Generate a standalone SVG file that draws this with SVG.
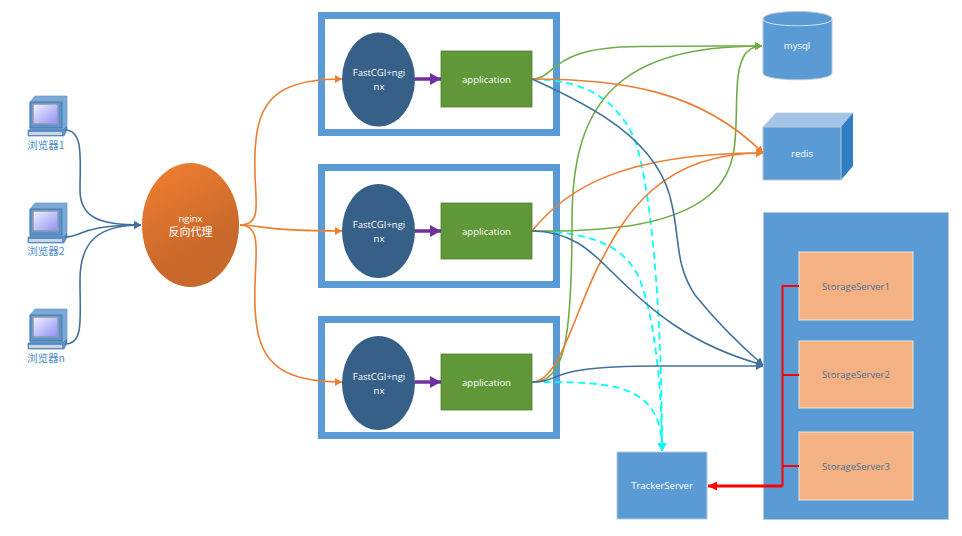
<svg xmlns="http://www.w3.org/2000/svg" width="962" height="536" viewBox="0 0 962 536">
<style>
text{font-family:"Open Sans","Noto Sans","Noto Sans CJK SC",sans-serif;font-size:9.5px;text-anchor:middle}
.w{fill:#fff}
.lbl{fill:#4a8ec9;font-size:10.500px;font-family:"Noto Sans CJK SC","Noto Sans",sans-serif}
.frame{fill:#fff;stroke:#5b9bd5;stroke-width:7}
.cgi{fill:#366088}
.app{fill:#609738;stroke:#4f7f2e;stroke-width:.8}
.blue{fill:#5b9bd5;stroke:#b9c7d6;stroke-width:1}
.st{fill:#f4b183;stroke:#f3e4d8;stroke-width:1}
.stt{fill:#4b6f94}
.c{fill:none;stroke-width:1.6}
.b{stroke:#41719c}.o{stroke:#ed7d31}.g{stroke:#70ad47}
.d{stroke:#00ffff;stroke-dasharray:7 4.5;stroke-width:1.8}
.r{fill:none;stroke:#f00;stroke-width:2}
</style>
<defs>
<marker id="ab" markerUnits="userSpaceOnUse" markerWidth="8" markerHeight="8" refX="7" refY="4" orient="auto"><path d="M0 0L7 4L0 8z" fill="#41719c"/></marker>
<marker id="ao" markerUnits="userSpaceOnUse" markerWidth="8" markerHeight="8" refX="7" refY="4" orient="auto"><path d="M0 0L7 4L0 8z" fill="#ed7d31"/></marker>
<marker id="ag" markerUnits="userSpaceOnUse" markerWidth="8" markerHeight="8" refX="7" refY="4" orient="auto"><path d="M0 0L7 4L0 8z" fill="#70ad47"/></marker>
<marker id="ac" markerUnits="userSpaceOnUse" markerWidth="9" markerHeight="9" refX="8" refY="4.500" orient="auto"><path d="M0 0L8 4.500L0 9z" fill="#00ffff"/></marker>
<marker id="ap" markerUnits="userSpaceOnUse" markerWidth="11" markerHeight="12" refX="11" refY="6" orient="auto"><path d="M0 0L11 6L0 12z" fill="#7030a0"/></marker>
<marker id="ar" markerUnits="userSpaceOnUse" markerWidth="9" markerHeight="9" refX="9" refY="4.500" orient="auto"><path d="M0 0L9 4.500L0 9z" fill="#f00"/></marker>
<linearGradient id="ng" x1="0.3" y1="0" x2="0.6" y2="0.7"><stop offset="0" stop-color="#ed7d31"/><stop offset="1" stop-color="#c8682a"/></linearGradient>
<linearGradient id="scr" x1="0" y1="0" x2="1" y2="1"><stop offset="0" stop-color="#f2f2ff"/><stop offset="1" stop-color="#8f8ff5"/></linearGradient>
<g id="pc">
<path d="M2 6L7 0H39V28L38 34H2z" fill="#7da9d6" stroke="#5b8fc4" stroke-width=".6"/>
<rect x="2" y="6" width="32" height="26" fill="#5b93cc" stroke="#3f74a8" stroke-width=".8"/>
<rect x="5" y="8" width="25" height="20" fill="url(#scr)" stroke="#8d9aa8" stroke-width="1.500"/>
<path d="M0 34H35L39 30V34L36 40H0z" fill="#5f93c8" stroke="#3f74a8" stroke-width=".6"/>
<rect x="1" y="36" width="33" height="3" fill="#c9d6e4"/>
</g>
</defs>

<g id="browser1"><use href="#pc" x="28" y="96"/><text class="lbl" x="46" y="149">浏览器1</text></g>
<g id="browser2"><use href="#pc" x="28" y="203"/><text class="lbl" x="46" y="255">浏览器2</text></g>
<g id="browsern"><use href="#pc" x="28" y="309"/><text class="lbl" x="46" y="362">浏览器n</text></g>

<g id="nginx"><ellipse cx="190.500" cy="225" rx="48.500" ry="62" fill="url(#ng)"/>
<text class="w" x="190.500" y="222">nginx</text><text class="w" x="190.500" y="236" style="font-size:11px">反向代理</text></g>

<g id="node1"><rect class="frame" x="321.500" y="15.500" width="235" height="117"/>
<ellipse class="cgi" cx="378.500" cy="79.500" rx="36.500" ry="47"/>
<text class="w" x="379" y="76">FastCGI+ngi</text><text class="w" x="379" y="90">nx</text>
<rect class="app" x="441" y="51" width="91" height="56"/><text class="w" x="486.500" y="83">application</text></g>
<g id="node2"><rect class="frame" x="321.500" y="167.500" width="235" height="117"/>
<ellipse class="cgi" cx="378.500" cy="231" rx="36.500" ry="47"/>
<text class="w" x="379" y="228">FastCGI+ngi</text><text class="w" x="379" y="242">nx</text>
<rect class="app" x="441" y="203" width="91" height="56"/><text class="w" x="486.500" y="235">application</text></g>
<g id="node3"><rect class="frame" x="321.500" y="319.500" width="235" height="116"/>
<ellipse class="cgi" cx="378.500" cy="383" rx="36.500" ry="47"/>
<text class="w" x="379" y="380">FastCGI+ngi</text><text class="w" x="379" y="394">nx</text>
<rect class="app" x="441" y="354" width="91" height="56"/><text class="w" x="486.500" y="386">application</text></g>

<g id="mysql"><path class="blue" d="M763 19C763 9 832 9 832 19V73C832 82 763 82 763 73z"/>
<path d="M763 19C763 28 832 28 832 19" fill="none" stroke="#d5e3f0" stroke-width="1"/>
<text class="w" x="797" y="49">mysql</text></g>

<g id="redis"><path d="M763 127L776 113H853L841 127z" fill="#a3c6e8" stroke="#b9c7d6" stroke-width=".8"/>
<path d="M841 127L853 113V166L841 180z" fill="#2e7dc5"/>
<rect class="blue" x="763" y="127" width="78" height="53"/>
<text class="w" x="802" y="157">redis</text></g>

<g id="storage"><rect class="blue" x="763.500" y="212.500" width="185" height="307"/>
<g id="s1"><rect class="st" x="799" y="252" width="114" height="68"/><text class="stt" x="856" y="290">StorageServer1</text></g>
<g id="s2"><rect class="st" x="799" y="341" width="114" height="67"/><text class="stt" x="856" y="378">StorageServer2</text></g>
<g id="s3"><rect class="st" x="799" y="432" width="114" height="68"/><text class="stt" x="856" y="470">StorageServer3</text></g></g>

<g id="tracker"><rect class="blue" x="617" y="452" width="90" height="67"/><text class="w" x="662" y="489">TrackerServer</text></g>

<g id="connectors">
<path class="c b" d="M65 130C84 130 80 160 80 190C80 218 100 225 141 225" marker-end="url(#ab)"/>
<path class="c b" d="M65 237C82 237 80 225 141 225" marker-end="url(#ab)"/>
<path class="c b" d="M65 344C84 344 80 320 80 280C80 240 100 225 141 225" marker-end="url(#ab)"/>
<path class="c o" d="M240 225C268 225 250 190 256 140C260 95 285 79 342 79" marker-end="url(#ao)"/>
<path class="c o" d="M240 225C262 225 260 231 342 231" marker-end="url(#ao)"/>
<path class="c o" d="M240 225C268 225 250 270 256 320C260 365 285 382 342 382" marker-end="url(#ao)"/>
<path d="M415 79H441" fill="none" stroke="#7030a0" stroke-width="3.500" marker-end="url(#ap)"/>
<path d="M415 231H441" fill="none" stroke="#7030a0" stroke-width="3.500" marker-end="url(#ap)"/>
<path d="M415 382H441" fill="none" stroke="#7030a0" stroke-width="3.500" marker-end="url(#ap)"/>

<path class="c d" d="M532 79C580 80 615 95 635 140C650 185 662 300 662 451" marker-end="url(#ac)"/>
<path class="c d" d="M532 231C590 232 625 245 640 280C655 320 662 390 662 451" marker-end="url(#ac)"/>
<path class="c d" d="M532 382C590 382 630 382 650 407C658 417 662 430 662 451" marker-end="url(#ac)"/>

<path class="c g" d="M532 79C558 79 545 47 640 46.500C690 46 720 46 762 46" marker-end="url(#ag)"/>
<path class="c g" d="M532 382C565 382 572 340 572 220C572 100 620 46 762 46" marker-end="url(#ag)"/>
<path class="c g" d="M532 231C610 232 680 225 715 190C740 165 735 130 737 90C738 60 745 46 762 46" marker-end="url(#ag)"/>

<path class="c o" d="M532 79C620 79 700 90 763 153" marker-end="url(#ao)"/>
<path class="c o" d="M532 231C565 190 620 153 763 153" marker-end="url(#ao)"/>
<path class="c o" d="M532 382C560 382 575 310 600 263C625 215 660 153 763 153" marker-end="url(#ao)"/>

<path class="c b" d="M532 79C590 105 660 140 672 205C680 240 675 265 695 295C715 320 740 345 763 365" marker-end="url(#ab)"/>
<path class="c b" d="M532 231C570 231 590 250 610 270C650 310 690 345 763 365" marker-end="url(#ab)"/>
<path class="c b" d="M532 382C565 382 540 366 660 366H763" marker-end="url(#ab)"/>
<path class="r" d="M799 286H782.500V486M799 375H782.500M799 466H782.500"/>
<path d="M782.500 486H708" fill="none" stroke="#f00" stroke-width="3" marker-end="url(#ar)"/>
</g>
</svg>
